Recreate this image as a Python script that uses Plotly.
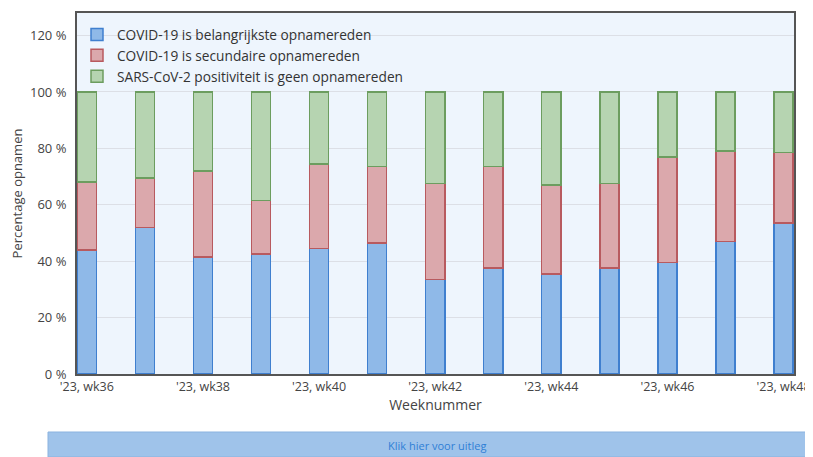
import plotly.graph_objects as go

weeks = ["'23, wk36", "'23, wk37", "'23, wk38", "'23, wk39", "'23, wk40", "'23, wk41",
         "'23, wk42", "'23, wk43", "'23, wk44", "'23, wk45", "'23, wk46", "'23, wk47", "'23, wk48"]
primary = [44, 52, 41.5, 42.5, 44.5, 46.5, 33.5, 37.5, 35.5, 37.5, 39.5, 47, 53.5]
secondary = [24, 17.5, 30.5, 19, 30, 27, 34, 36, 31.5, 30, 37.5, 32, 25]
not_reason = [round(100 - p - s, 1) for p, s in zip(primary, secondary)]

series_names = ["COVID-19 is belangrijkste opnamereden",
                "COVID-19 is secundaire opnamereden",
                "SARS-CoV-2 positiviteit is geen opnamereden"]
fills = ["#8fb9e8", "#dba8ac", "#b6d4b1"]
borders = ["#3f7fcf", "#b85a5f", "#6c9d5f"]

y_ticks = [0, 20, 40, 60, 80, 100, 120]
y_tick_text = [f"{v} %" for v in y_ticks]

# page has an 8px body offset; plot area targeted at x 77..794, y 13..374 on screen
OFF = 8
L, T, R, B = 77 - OFF, 13 - OFF, 794 - OFF, 374 - OFF
W, H = 813 - OFF, 457 - OFF
PW, PH = R - L, B - T

x = list(range(len(weeks)))
fig = go.Figure()
for name, vals, fc, bc in zip(series_names, [primary, secondary, not_reason], fills, borders):
    fig.add_trace(go.Bar(x=x, y=vals, name=name, width=0.33,
                         marker=dict(color=fc, line=dict(color=bc, width=1.5))))

fig.update_layout(
    barmode="stack",
    width=W, height=H,
    margin=dict(l=L, r=W - R, t=T, b=H - B, autoexpand=False),
    paper_bgcolor="white",
    plot_bgcolor="#eef5fd",
    font=dict(family="Open Sans, Noto Sans, sans-serif", size=12, color="#444"),
    legend=dict(x=0.0, y=0.983, xanchor="left", yanchor="top",
                bgcolor="rgba(0,0,0,0)", font=dict(size=13.7, color="#333"),
                traceorder="normal", itemwidth=30),
    xaxis=dict(range=[-0.17, 12.18], tickvals=x[::2], ticktext=weeks[::2],
               showgrid=False, showline=True, linecolor="#555", linewidth=2, mirror=True,
               ticks="", tickfont=dict(size=12.5, color="#444"),
               title=dict(text="Weeknummer", font=dict(size=14, color="#444"), standoff=4)),
    yaxis=dict(range=[0, 128], tickvals=y_ticks, ticktext=y_tick_text,
               showgrid=True, gridcolor="#dcdfe6", gridwidth=1,
               showline=True, linecolor="#555", linewidth=2, mirror=True,
               zeroline=False, ticks="", ticklabelstandoff=6,
               tickfont=dict(size=13, color="#444"),
               title=dict(text="Percentage opnamen", font=dict(size=13, color="#444"), standoff=5)),
)

# "Klik hier voor uitleg" button strip (screen x 48..813, y 432..457)
bx0, bx1, by0, by1 = 48 - OFF, 813 - OFF, 432 - OFF, 457 - OFF
fig.add_shape(type="rect", xref="paper", yref="paper",
              x0=(bx0 - L) / PW, x1=(bx1 - L) / PW,
              y0=(B - by1) / PH, y1=(B - by0) / PH,
              fillcolor="#9fc3ea", line=dict(color="#8bb3df", width=1), layer="above")
fig.add_annotation(text="Klik hier voor uitleg", xref="paper", yref="paper",
                   x=(437 - OFF - L) / PW, y=(B - (445 - OFF)) / PH,
                   xanchor="center", yanchor="middle", showarrow=False,
                   font=dict(size=11, color="#2f7fd6"))

fig.write_html("out.html")
